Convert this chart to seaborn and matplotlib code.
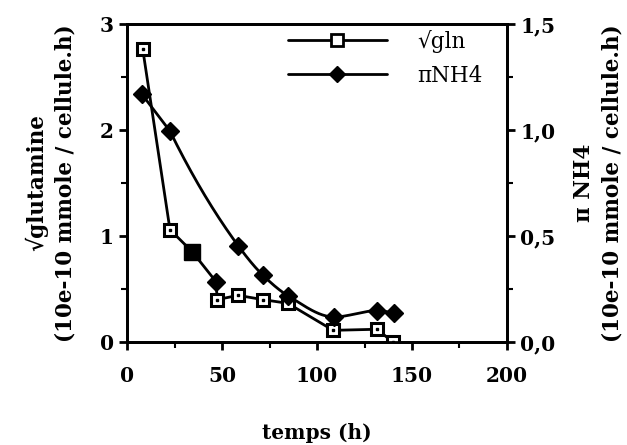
import numpy as np
import pandas as pd
import seaborn as sns
import matplotlib.pyplot as plt
from matplotlib.lines import Line2D
from matplotlib.ticker import MultipleLocator, FuncFormatter

# glutamine uptake (left axis)
gln_t = [8.3, 22.6, 34.4, 46.8, 47.5, 58.5, 71.4, 84.6, 108.5, 131.7, 139.8]
gln_v = [2.76, 1.06, 0.85, 0.57, 0.40, 0.44, 0.40, 0.365, 0.11, 0.12, 0.0]
gln_mk = ['open', 'open', 'fsq', 'fdia', 'open', 'open', 'open', 'open', 'open', 'open', 'open']

# NH4 production (right axis)
nh4_t = [7.7, 22.6, 58.6, 71.4, 84.9, 109.0, 131.7, 140.5]
nh4_v = [1.17, 0.995, 0.453, 0.316, 0.217, 0.118, 0.148, 0.135]


def pchip_line(x, y, n=40):
    # monotone cubic (Fritsch-Carlson) used only to draw the smoothed curve
    x = np.asarray(x, float)
    y = np.asarray(y, float)
    h = np.diff(x)
    d = np.diff(y) / h
    m = np.zeros_like(y)
    for k in range(1, len(x) - 1):
        if d[k - 1] * d[k] > 0:
            w1 = 2 * h[k] + h[k - 1]
            w2 = h[k] + 2 * h[k - 1]
            m[k] = (w1 + w2) / (w1 / d[k - 1] + w2 / d[k])
    m[0] = ((2 * h[0] + h[1]) * d[0] - h[0] * d[1]) / (h[0] + h[1])
    if np.sign(m[0]) != np.sign(d[0]):
        m[0] = 0
    m[-1] = ((2 * h[-1] + h[-2]) * d[-1] - h[-1] * d[-2]) / (h[-1] + h[-2])
    if np.sign(m[-1]) != np.sign(d[-1]):
        m[-1] = 0
    xs, ys = [], []
    for k in range(len(x) - 1):
        t = np.linspace(0, 1, n)
        h00 = 2 * t**3 - 3 * t**2 + 1
        h10 = t**3 - 2 * t**2 + t
        h01 = -2 * t**3 + 3 * t**2
        h11 = t**3 - t**2
        xs.append(x[k] + t * h[k])
        ys.append(h00 * y[k] + h10 * h[k] * m[k] + h01 * y[k + 1] + h11 * h[k] * m[k + 1])
    return np.concatenate(xs), np.concatenate(ys)


sns.set_style("ticks")
plt.rcParams['font.family'] = ['DejaVu Serif']
plt.rcParams['font.weight'] = 'bold'
for key in ['text.color', 'axes.labelcolor', 'xtick.color', 'ytick.color', 'axes.edgecolor']:
    plt.rcParams[key] = 'black'

fig = plt.figure(figsize=(6.27, 4.45), dpi=100)
ax = fig.add_axes([0.2026, 0.2315, 0.606, 0.7145])
ax2 = ax.twinx()

gln = pd.DataFrame({'t': gln_t, 'v': gln_v, 'm': gln_mk})

sns.lineplot(data=gln, x='t', y='v', ax=ax, color='black', lw=2, sort=False, zorder=2)
# first NH4 segment straight, the rest smoothed
cx, cy = pchip_line(nh4_t[1:], nh4_v[1:])
cx = np.concatenate([nh4_t[:1], cx])
cy = np.concatenate([nh4_v[:1], cy])
sns.lineplot(x=cx, y=cy, ax=ax2, color='black', lw=2, sort=False, estimator=None, zorder=2)

op = gln[gln.m == 'open']
ax.plot(op.t, op.v, ls='none', marker='s', ms=9, mfc='white', mec='black', mew=2.2, zorder=5)
ax.plot(op.t, op.v, ls='none', marker='s', ms=2, mfc='black', mec='black', zorder=6)
fs = gln[gln.m == 'fsq']
ax.plot(fs.t, fs.v, ls='none', marker='s', ms=11, color='black', zorder=5)
fd = gln[gln.m == 'fdia']
ax.plot(fd.t, fd.v, ls='none', marker='D', ms=9, color='black', zorder=5)
ax2.plot(nh4_t, nh4_v, ls='none', marker='D', ms=9, color='black', zorder=5)

ax.set_xlim(0, 200)
ax.set_ylim(0, 3)
ax2.set_ylim(0, 1.5)
ax.xaxis.set_major_locator(MultipleLocator(50))
ax.xaxis.set_minor_locator(MultipleLocator(25))
ax.yaxis.set_major_locator(MultipleLocator(1))
ax.yaxis.set_minor_locator(MultipleLocator(0.5))
ax2.yaxis.set_major_locator(MultipleLocator(0.5))
ax2.yaxis.set_minor_locator(MultipleLocator(0.25))
ax2.yaxis.set_major_formatter(FuncFormatter(lambda v, p: f"{v:.1f}".replace('.', ',')))

for a in (ax, ax2):
    for s in a.spines.values():
        s.set_linewidth(2)
        s.set_visible(True)
    a.tick_params(which='major', direction='out', length=6, width=2, labelsize=14.5)
    a.tick_params(which='minor', direction='out', length=4, width=1.5)
ax.tick_params(axis='x', which='major', pad=11)

ax.set_xlabel('temps (h)', fontsize=14.5, fontweight='bold', labelpad=27)
ax.set_ylabel('√glutamine\n(10e-10 mmole / cellule.h)', fontsize=15.5, fontweight='bold',
              labelpad=17, linespacing=1.35)
ax2.set_ylabel('π NH4\n(10e-10 mmole / cellule.h)', fontsize=15.5, fontweight='bold',
               labelpad=13, linespacing=1.35)

handles = [
    Line2D([], [], color='black', lw=2, marker='s', ms=8, mfc='white', mec='black', mew=2),
    Line2D([], [], color='black', lw=2, marker='D', ms=8),
]
leg = ax.legend(handles, ['√gln', 'πNH4'], loc='upper left', frameon=False,
                handlelength=4.6, handletextpad=1.4, labelspacing=0.55,
                borderpad=0, borderaxespad=0,
                prop={'family': 'DejaVu Serif', 'weight': 'normal', 'size': 15.5},
                bbox_to_anchor=(0.459, 0.933), bbox_transform=fig.transFigure)

fig.savefig('out.png', dpi=100)
